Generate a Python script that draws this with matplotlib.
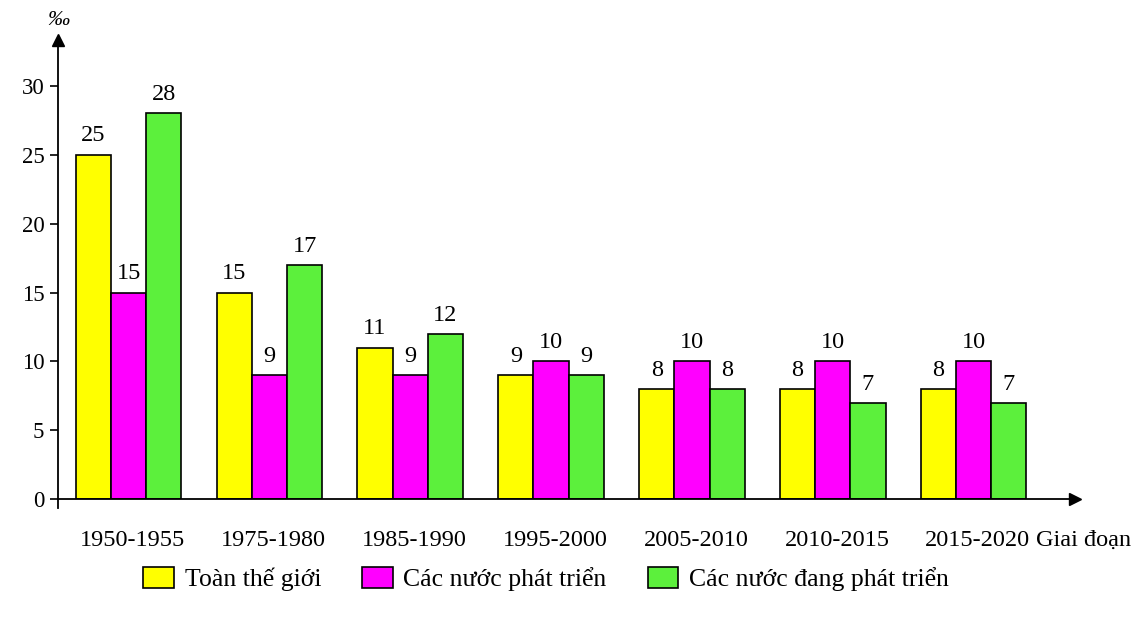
import numpy as np
import matplotlib.pyplot as plt
from matplotlib.patches import Patch

# Dữ liệu
giai_doan = ["1950-1955", "1975-1980", "1985-1990", "1995-2000",
             "2005-2010", "2010-2015", "2015-2020"]
toan_the_gioi = [25, 15, 11, 9, 8, 8, 8]
nuoc_phat_trien = [15, 9, 9, 10, 10, 10, 10]
nuoc_dang_phat_trien = [28, 17, 12, 9, 8, 7, 7]
ten_chuoi = ["Toàn thế giới", "Các nước phát triển", "Các nước đang phát triển"]
mau = ["#FFFF00", "#FF00FF", "#5CF03C"]

plt.rcParams['font.family'] = ['Liberation Serif', 'DejaVu Serif']

fig = plt.figure(figsize=(11.4, 6.18), dpi=100)
ax = fig.add_axes([0.051, 0.192, 0.892, 0.743])

x = np.arange(len(giai_doan))
w = 0.25
for k, vals in enumerate([toan_the_gioi, nuoc_phat_trien, nuoc_dang_phat_trien]):
    bars = ax.bar(x + (k - 1) * w, vals, w, color=mau[k], edgecolor="black", linewidth=1.2)
    for b, v in zip(bars, vals):
        ax.text(b.get_x() + b.get_width() / 2, v + 0.6, str(v),
                ha="center", va="bottom", fontsize=17.5)

ax.set_xlim(-0.5, 6.72)
ax.set_ylim(0, 33.3)
ax.set_yticks([0, 5, 10, 15, 20, 25, 30])
ax.set_xticks(x + 0.03)
ax.set_xticklabels(giai_doan)
ax.tick_params(axis="y", direction="out", length=6, width=1.2, labelsize=16.5, pad=4)
ax.tick_params(axis="x", length=0, labelsize=17.5, pad=22)

for s in ["top", "right"]:
    ax.spines[s].set_visible(False)
ax.spines["left"].set_linewidth(1.3)
ax.spines["bottom"].set_linewidth(1.3)
ax.spines["left"].set_bounds(-0.6, 33.3)

# Mũi tên trục
ax.plot(1, 0, ">", color="black", markersize=9, transform=ax.get_yaxis_transform(), clip_on=False)
ax.plot(-0.5, 1, "^", color="black", markersize=9, transform=ax.get_xaxis_transform(), clip_on=False)

ax.text(-0.5, 1.022, "‰", transform=ax.get_xaxis_transform(), ha="center", va="bottom",
        fontsize=16, style="italic")
fig.text(0.909, 0.126, "Giai đoạn", ha="left", va="center", fontsize=17.5)

handles = [Patch(facecolor=c, edgecolor="black", linewidth=1.2) for c in mau]
fig.legend(handles, ten_chuoi, loc="center", bbox_to_anchor=(0.479, 0.063), ncol=3,
           frameon=False, fontsize=18.5, handlelength=1.2, handleheight=0.9,
           columnspacing=1.6, handletextpad=0.4)

fig.savefig("out.png", dpi=100)
